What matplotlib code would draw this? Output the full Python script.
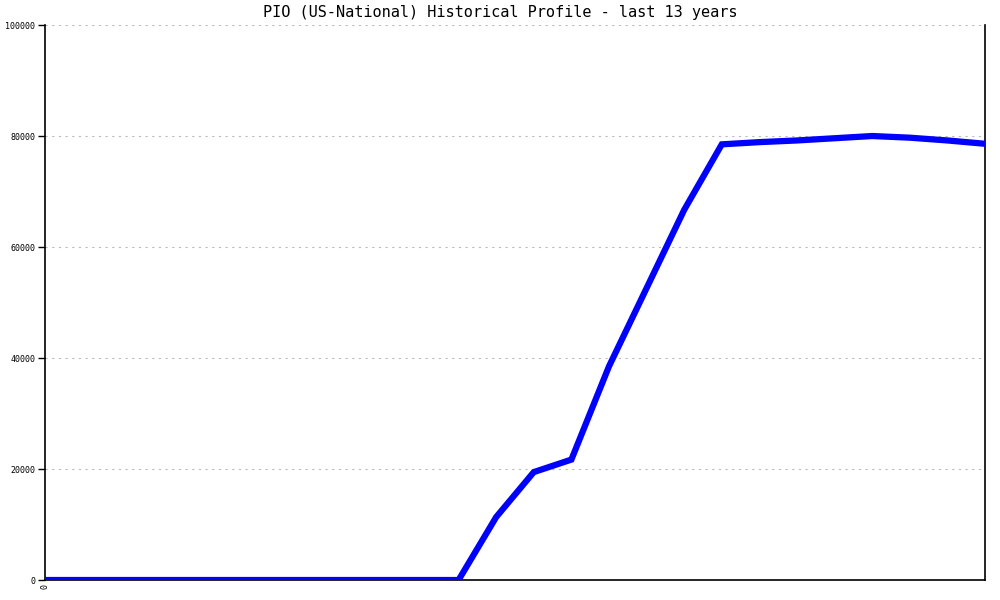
import numpy as np
import matplotlib.pyplot as plt

plt.rcParams['font.family'] = ['DejaVu Sans Mono']

TITLE = 'PIO (US-National) Historical Profile - last 13 years'

# semiannual points, 13 years
periods = np.arange(26)
values = [0, 0, 0, 0, 0, 0, 0, 0, 0, 0, 0, 0,
          11350, 19450, 21700, 38500, 52600, 66700, 78500,
          78900, 79200, 79600, 80000, 79700, 79200, 78600]
yticks = [0, 20000, 40000, 60000, 80000, 100000]


def main():
    fig = plt.figure(figsize=(10, 6), dpi=100)
    ax = fig.add_axes([0.045, 0.0333, 0.94, 0.925])

    ax.plot(periods, values, color='#0000ff', linewidth=4.5,
            solid_capstyle='butt', solid_joinstyle='miter', zorder=3)

    ax.set_xlim(0, 25)
    ax.set_ylim(0, 100000)
    ax.set_yticks(yticks)
    ax.set_yticklabels([str(v) for v in yticks], fontsize=6)
    ax.set_xticks([0])
    ax.set_xticklabels(['0'], rotation=90, fontsize=6)
    ax.tick_params(axis='y', length=5, width=1, pad=2)
    ax.tick_params(axis='x', length=0, pad=3)

    ax.grid(axis='y', color='#bbbbbb', linestyle=(0, (2, 4)), linewidth=0.8)
    ax.spines['top'].set_visible(False)
    for s in ['left', 'bottom', 'right']:
        ax.spines[s].set_linewidth(1.2)
        ax.spines[s].set_color('black')

    # title centred on the whole image, not the axes
    fig.text(0.5, 1 - 13 / 600, TITLE, fontsize=11, ha='center', va='center')
    fig.savefig('out.png', dpi=100)


if __name__ == '__main__':
    main()
